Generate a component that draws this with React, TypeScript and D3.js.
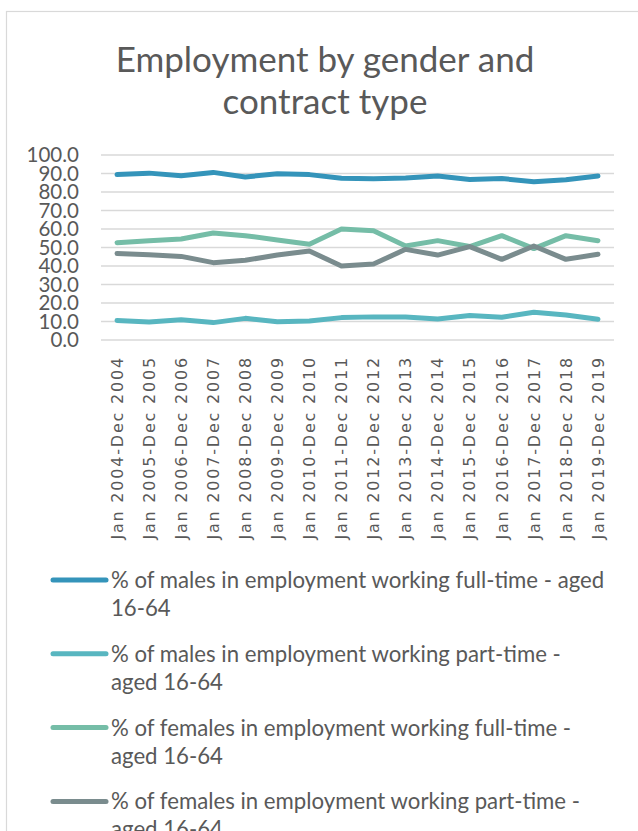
import * as d3 from 'd3';

const categories = [
  'Jan 2004-Dec 2004', 'Jan 2005-Dec 2005', 'Jan 2006-Dec 2006', 'Jan 2007-Dec 2007',
  'Jan 2008-Dec 2008', 'Jan 2009-Dec 2009', 'Jan 2010-Dec 2010', 'Jan 2011-Dec 2011',
  'Jan 2012-Dec 2012', 'Jan 2013-Dec 2013', 'Jan 2014-Dec 2014', 'Jan 2015-Dec 2015',
  'Jan 2016-Dec 2016', 'Jan 2017-Dec 2017', 'Jan 2018-Dec 2018', 'Jan 2019-Dec 2019',
];

const malesFullTime = [89.4, 90.2, 88.8, 90.6, 88.1, 89.9, 89.4, 87.4, 87.2, 87.6, 88.6, 86.8, 87.3, 85.5, 86.6, 88.6];
const malesPartTime = [10.6, 9.7, 11.0, 9.4, 11.7, 9.9, 10.3, 12.1, 12.5, 12.4, 11.4, 13.2, 12.3, 15.0, 13.5, 11.2];
const femalesFullTime = [52.6, 53.7, 54.6, 57.8, 56.4, 54.1, 51.8, 60.0, 59.0, 50.8, 53.7, 50.5, 56.4, 49.4, 56.4, 53.7];
const femalesPartTime = [46.8, 46.1, 45.2, 41.8, 43.1, 45.9, 48.1, 40.0, 41.1, 49.0, 45.9, 50.5, 43.6, 50.8, 43.6, 46.3];

const seriesNames = [
  ['% of males in employment working full-time - aged', '16-64'],
  ['% of males in employment working part-time -', 'aged 16-64'],
  ['% of females in employment working full-time -', 'aged 16-64'],
  ['% of females in employment working part-time -', 'aged 16-64'],
];
const colors = ['#3494ba', '#58b6c0', '#75bda7', '#7a8c8e'];
const yTicks = [0, 10, 20, 30, 40, 50, 60, 70, 80, 90, 100];

const W = 638;
const H = 831;
const font = 'Lato, "Open Sans", sans-serif';
const textColor = '#595959';

export default function App() {
  const series = [malesFullTime, malesPartTime, femalesFullTime, femalesPartTime];

  const x = d3.scaleBand<string>().domain(categories).range([101, 614]).padding(0);
  const y = d3.scaleLinear().domain([0, 100]).range([340, 155]);
  const cx = (c: string) => (x(c) ?? 0) + x.bandwidth() / 2;

  const line = d3
    .line<number>()
    .x((_, i) => cx(categories[i]))
    .y((d) => y(d));

  return (
    <svg
      width={W}
      height={H}
      style={{ position: 'absolute', left: 0, top: 0, display: 'block', background: '#fff' }}
    >
      <rect x={6.5} y={11.5} width={W + 20} height={H + 20} fill="#fff" stroke="#d9d9d9" strokeWidth={1.2} />

      <g fontFamily={font} fill={textColor} fontSize={35} textAnchor="middle">
        <text x={325} y={72}>Employment by gender and</text>
        <text x={325} y={114}>contract type</text>
      </g>

      {yTicks.map((t) => (
        <g key={t}>
          <line x1={101} x2={614} y1={y(t)} y2={y(t)} stroke="#d9d9d9" strokeWidth={1.3} />
          <text
            x={79}
            y={y(t)}
            dy="0.36em"
            textAnchor="end"
            fontFamily={font}
            fontSize={20.5}
            fill={textColor}
          >
            {t.toFixed(1)}
          </text>
        </g>
      ))}

      {categories.map((c) => (
        <text
          key={c}
          transform={`translate(${cx(c)},356) rotate(-90)`}
          dy="0.36em"
          textAnchor="end"
          fontFamily='"DejaVu Sans", sans-serif'
          fontSize={16}
          letterSpacing={1.8}
          fill={textColor}
        >
          {c}
        </text>
      ))}

      {series.map((s, i) => (
        <path
          key={i}
          d={line(s) ?? ''}
          fill="none"
          stroke={colors[i]}
          strokeWidth={5}
          strokeLinejoin="round"
          strokeLinecap="round"
        />
      ))}

      {seriesNames.map((lines, i) => {
        const ly = 580 + i * 73.8;
        return (
          <g key={i}>
            <line x1={53} x2={106} y1={ly} y2={ly} stroke={colors[i]} strokeWidth={5} strokeLinecap="round" />
            {lines.map((txt, j) => (
              <text
                key={j}
                x={111}
                y={ly + j * 28}
                dy="0.36em"
                fontFamily={font}
                fontSize={22.2}
                fill={textColor}
              >
                {txt}
              </text>
            ))}
          </g>
        );
      })}
    </svg>
  );
}
